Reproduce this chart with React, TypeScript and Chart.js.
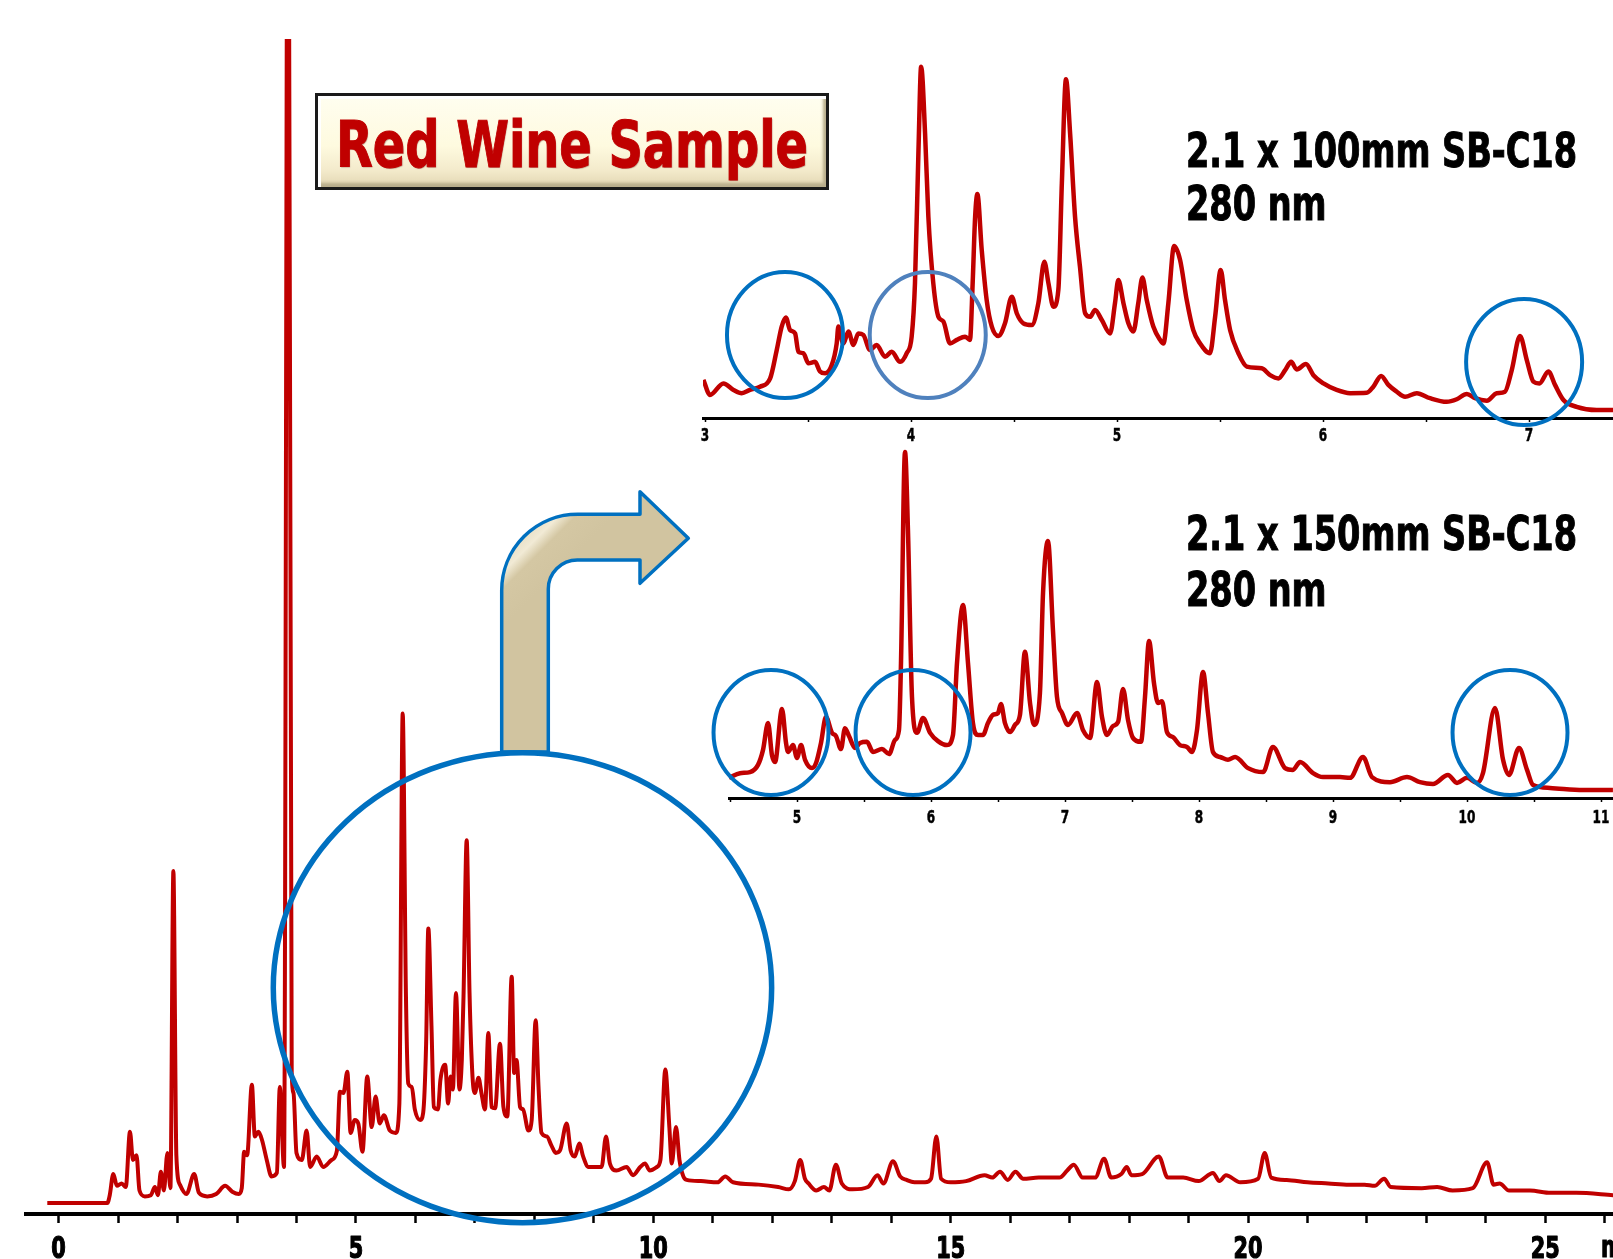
import React, { useEffect, useLayoutEffect, useRef } from 'react';
import { Chart, registerables } from 'chart.js';

Chart.register(...registerables);

const FONT = "'DejaVu Sans Condensed', 'DejaVu Sans', sans-serif";
const RED = '#C00000';
const BLUE = '#0070C0';
const STEEL = '#4F81BD';

// ---------- Main chromatogram (full run, minutes vs. relative absorbance) ----------
const mainTimes = [
  -0.19, 0.82, 0.86, 0.92, 0.98, 1.06, 1.13, 1.2, 1.25, 1.31, 1.36, 1.45, 1.55, 1.62, 1.67, 1.72, 1.77, 1.83, 1.88, 1.93,
  1.98, 2.04, 2.15, 2.28, 2.36, 2.5, 2.65, 2.8, 2.92, 3.03, 3.08, 3.12, 3.17, 3.25, 3.3, 3.36, 3.42, 3.5, 3.58, 3.67,
  3.72, 3.79, 3.86, 3.92, 3.95, 4.0, 4.09, 4.17, 4.23, 4.34, 4.45, 4.59, 4.68, 4.73, 4.79, 4.855, 4.91, 4.98, 5.04, 5.11,
  5.19, 5.265, 5.33, 5.4, 5.47, 5.57, 5.67, 5.73, 5.786, 5.84, 5.88, 5.94, 5.99, 6.08, 6.13, 6.18, 6.217, 6.27, 6.31, 6.38,
  6.42, 6.5, 6.55, 6.59, 6.63, 6.682, 6.74, 6.78, 6.81, 6.862, 6.91, 6.96, 7.0, 7.06, 7.11, 7.17, 7.226, 7.28, 7.34, 7.422,
  7.48, 7.545, 7.619, 7.66, 7.7, 7.76, 7.81, 7.9, 7.955, 8.022, 8.07, 8.12, 8.21, 8.29, 8.36, 8.43, 8.544, 8.61, 8.68, 8.756,
  8.82, 8.91, 9.05, 9.13, 9.205, 9.27, 9.38, 9.55, 9.66, 9.78, 9.86, 9.94, 10.06, 10.12, 10.202, 10.27, 10.31, 10.382, 10.44, 10.505,
  10.56, 10.8, 11.08, 11.21, 11.34, 11.77, 12.1, 12.28, 12.38, 12.47, 12.55, 12.61, 12.74, 12.87, 12.96, 13.07, 13.17, 13.35, 13.61, 13.77,
  13.87, 14.03, 14.15, 14.26, 14.39, 14.57, 14.67, 14.76, 14.84, 15.0, 15.26, 15.57, 15.7, 15.83, 15.96, 16.09, 16.22, 16.48, 16.83, 16.96,
  17.07, 17.22, 17.43, 17.58, 17.7, 17.87, 17.96, 18.04, 18.22, 18.5, 18.65, 18.91, 19.17, 19.41, 19.52, 19.63, 19.87, 20.17, 20.28, 20.39,
  20.65, 21.0, 21.35, 21.7, 21.96, 22.13, 22.29, 22.4, 22.92, 23.18, 23.44, 23.78, 24.02, 24.13, 24.23, 24.39, 24.74, 25.09, 25.52, 26.14,
];
const mainSignal = [
  0.94, 0.94, 1.6, 3.4, 2.4, 2.6, 2.3, 7.0, 4.6, 5.0, 2.0, 1.5, 1.6, 2.3, 1.6, 3.6, 2.0, 5.2, 2.2, 29.2,
  5.0, 2.5, 1.7, 3.4, 1.8, 1.5, 1.7, 2.4, 1.9, 1.7, 2.2, 5.3, 5.0, 11.0, 6.6, 7.0, 6.3, 4.6, 3.2, 3.5,
  10.8, 4.0, 135, 12.0, 10.3, 5.2, 4.6, 7.1, 4.0, 4.9, 4.0, 4.6, 5.4, 10.4, 10.3, 12.1, 6.9, 8.0, 7.7, 5.3,
  11.7, 7.4, 10.0, 7.7, 8.4, 7.1, 6.9, 9.4, 42.6, 18.8, 11.1, 10.8, 8.9, 8.0, 8.6, 14.5, 24.3, 16.0, 9.1, 8.9,
  11.4, 12.7, 9.4, 11.7, 10.6, 18.8, 10.6, 13.1, 18.8, 31.8, 18.8, 11.7, 10.3, 11.6, 10.3, 8.9, 15.4, 9.1, 9.0, 14.5,
  9.1, 8.3, 20.2, 12.0, 13.1, 9.1, 8.9, 7.1, 8.0, 16.5, 10.8, 6.9, 6.6, 5.8, 5.2, 5.4, 7.7, 5.4, 4.9, 6.0,
  4.9, 4.0, 4.0, 4.0, 6.6, 4.3, 3.7, 4.0, 3.3, 4.0, 4.3, 3.7, 4.0, 4.6, 12.3, 7.4, 4.3, 7.4, 4.6, 3.2,
  2.9, 2.8, 2.7, 3.2, 2.7, 2.5, 2.3, 2.1, 2.8, 4.6, 3.0, 2.6, 2.0, 2.3, 2.0, 4.2, 2.6, 2.1, 2.3, 3.3,
  2.6, 4.5, 3.2, 2.9, 2.7, 2.7, 3.0, 6.6, 3.0, 2.7, 2.8, 3.3, 3.1, 3.6, 2.9, 3.6, 3.0, 3.1, 3.1, 3.7,
  4.2, 3.1, 3.1, 4.7, 3.1, 3.4, 4.0, 3.3, 3.4, 4.9, 3.1, 3.1, 2.8, 3.5, 2.8, 3.3, 2.7, 3.0, 5.2, 3.1,
  2.9, 2.7, 2.6, 2.5, 2.5, 2.4, 3.0, 2.3, 2.2, 2.3, 2.0, 2.2, 4.4, 2.5, 2.6, 2.0, 2.0, 1.8, 1.8, 1.6,
];
const mainTickLabels = [0, 5, 10, 15, 20, 25];

// ---------- Inset 1: 2.1 x 100mm SB-C18, 280 nm ----------
const topTimes = [
  2.992, 3.024, 3.089, 3.138, 3.178, 3.218, 3.267, 3.316, 3.348, 3.372, 3.392, 3.413, 3.437, 3.453, 3.477, 3.502, 3.534, 3.558, 3.583, 3.615,
  3.639, 3.647, 3.671, 3.696, 3.72, 3.744, 3.768, 3.801, 3.833, 3.874, 3.906, 3.947, 3.979, 4.003, 4.019, 4.036, 4.049, 4.068, 4.084, 4.108,
  4.133, 4.157, 4.189, 4.222, 4.262, 4.286, 4.299, 4.311, 4.322, 4.343, 4.367, 4.392, 4.424, 4.456, 4.489, 4.513, 4.545, 4.586, 4.618, 4.647,
  4.667, 4.691, 4.715, 4.732, 4.752, 4.772, 4.796, 4.82, 4.845, 4.869, 4.893, 4.926, 4.966, 4.99, 5.006, 5.031, 5.055, 5.079, 5.103, 5.123,
  5.144, 5.176, 5.209, 5.225, 5.249, 5.277, 5.306, 5.338, 5.37, 5.403, 5.451, 5.476, 5.503, 5.524, 5.549, 5.589, 5.63, 5.702, 5.743, 5.783,
  5.816, 5.845, 5.872, 5.917, 5.953, 6.002, 6.066, 6.131, 6.212, 6.244, 6.282, 6.317, 6.358, 6.398, 6.455, 6.519, 6.6, 6.649, 6.698, 6.738,
  6.795, 6.843, 6.883, 6.916, 6.956, 6.989, 7.021, 7.05, 7.094, 7.126, 7.167, 7.231, 7.328, 7.408,
];
const topSignal = [
  10.6, 6.4, 9.6, 7.8, 6.9, 7.8, 8.7, 11.0, 18.9, 25.4, 27.9, 24.4, 23.5, 18.4, 18.0, 15.2, 15.6, 12.9, 12.4, 14.7,
  20.7, 25.4, 20.7, 24.0, 20.3, 23.5, 23.1, 18.9, 20.3, 17.0, 18.4, 15.6, 18.0, 22.6, 37.4, 74.4, 97.6, 79.1, 55.9, 37.4,
  28.1, 26.8, 20.7, 21.7, 22.6, 21.7, 37.4, 55.9, 62.2, 46.7, 32.8, 25.4, 22.8, 26.3, 33.7, 29.1, 26.3, 25.8, 31.9, 43.4,
  37.4, 30.9, 35.6, 65.2, 94.1, 79.1, 55.9, 42.0, 29.1, 28.1, 30.0, 27.2, 23.5, 31.9, 38.3, 31.9, 26.3, 24.0, 31.9, 39.0,
  32.8, 25.4, 21.7, 20.7, 31.9, 47.8, 43.9, 32.8, 24.4, 20.7, 18.0, 28.1, 41.1, 32.8, 24.4, 18.0, 14.3, 13.8, 11.9, 11.0,
  13.3, 15.6, 13.5, 15.0, 11.9, 9.6, 7.8, 6.9, 7.0, 8.7, 11.7, 9.2, 7.3, 5.9, 6.9, 5.5, 4.5, 5.2, 6.7, 5.5,
  4.8, 6.9, 7.3, 13.3, 22.8, 16.1, 10.1, 9.6, 12.9, 9.2, 5.0, 3.1, 2.2, 2.2,
];
const topTickLabels = [3, 4, 5, 6, 7];

// ---------- Inset 2: 2.1 x 150mm SB-C18, 280 nm ----------
const botTimes = [
  4.493, 4.575, 4.649, 4.709, 4.746, 4.784, 4.813, 4.836, 4.888, 4.918, 4.933, 4.97, 5.0, 5.03, 5.06, 5.112, 5.142, 5.179, 5.216, 5.261,
  5.291, 5.328, 5.358, 5.388, 5.433, 5.47, 5.522, 5.567, 5.634, 5.687, 5.731, 5.761, 5.776, 5.806, 5.828, 5.858, 5.896, 5.94, 5.993, 6.052,
  6.119, 6.164, 6.194, 6.239, 6.276, 6.313, 6.351, 6.388, 6.425, 6.463, 6.5, 6.522, 6.552, 6.59, 6.627, 6.664, 6.701, 6.739, 6.769, 6.813,
  6.836, 6.873, 6.91, 6.94, 6.978, 7.022, 7.09, 7.134, 7.187, 7.239, 7.276, 7.313, 7.358, 7.396, 7.433, 7.47, 7.507, 7.567, 7.597, 7.627,
  7.664, 7.694, 7.724, 7.761, 7.806, 7.858, 7.91, 7.948, 7.985, 8.03, 8.067, 8.104, 8.157, 8.216, 8.269, 8.366, 8.478, 8.552, 8.642, 8.701,
  8.754, 8.851, 8.925, 9.052, 9.127, 9.224, 9.291, 9.425, 9.552, 9.649, 9.746, 9.858, 9.925, 10.0, 10.075, 10.119, 10.209, 10.269, 10.313, 10.388,
  10.448, 10.493, 10.619, 10.866, 11.089,
];
const botSignal = [
  5.6, 6.9, 7.2, 9.2, 13.3, 20.8, 11.9, 10.0, 24.7, 15.3, 12.8, 14.7, 11.1, 14.7, 10.6, 8.3, 9.7, 15.3, 22.5, 18.1,
  17.2, 13.6, 19.4, 17.2, 13.9, 15.3, 15.6, 12.8, 13.6, 12.2, 16.1, 18.9, 37.5, 96.1, 74.4, 28.1, 18.1, 22.2, 18.1, 15.8,
  14.7, 17.5, 37.5, 53.6, 37.5, 20.8, 17.5, 17.5, 20.8, 23.1, 23.6, 26.1, 20.8, 18.3, 20.3, 23.1, 40.6, 26.4, 20.3, 29.2,
  56.9, 71.4, 46.7, 28.1, 23.6, 20.3, 23.6, 18.9, 16.7, 32.2, 22.5, 17.5, 20.0, 21.1, 30.3, 21.7, 16.7, 15.6, 28.1, 43.6,
  31.9, 26.4, 26.9, 18.3, 16.9, 14.7, 14.2, 12.8, 18.9, 35.0, 23.6, 12.8, 11.4, 10.6, 11.4, 8.3, 7.2, 14.2, 8.3, 7.8,
  10.0, 6.9, 5.8, 5.8, 5.6, 11.4, 5.8, 4.4, 5.8, 4.4, 3.9, 6.4, 4.2, 5.6, 4.2, 6.9, 25.0, 10.6, 6.4, 13.9,
  7.8, 3.6, 2.8, 2.2, 2.2,
];
const botTickLabels = [5, 6, 7, 8, 9, 10, 11];

// Highlight circles (centre time, centre signal, radius in minutes, radius in signal units)
const mainCircles = [{ t: 7.8, v: 19.26, rt: 4.19, rv: 20.0, color: BLUE, width: 5.5 }];
const topCircles = [
  { t: 3.388, v: 23.06, rt: 0.2816, rv: 17.5, color: BLUE, width: 4 },
  { t: 4.081, v: 23.06, rt: 0.2816, rv: 17.5, color: STEEL, width: 4 },
  { t: 6.976, v: 15.56, rt: 0.2816, rv: 17.5, color: BLUE, width: 4 },
];
const botCircles = [
  { t: 4.806, v: 18.19, rt: 0.429, rv: 17.36, color: BLUE, width: 4 },
  { t: 5.866, v: 18.19, rt: 0.429, rv: 17.36, color: BLUE, width: 4 },
  { t: 10.321, v: 18.19, rt: 0.429, rv: 17.36, color: BLUE, width: 4 },
];

const toPoints = (ts: number[], vs: number[]) => ts.map((t, i) => ({ x: t, y: vs[i] }));

const circlePlugin = (id: string, circles: any[]) => ({
  id,
  afterDatasetsDraw(chart: any) {
    const { ctx, scales } = chart;
    const xs = scales.x;
    const ys = scales.y;
    ctx.save();
    circles.forEach((c) => {
      const cx = xs.getPixelForValue(c.t);
      const cy = ys.getPixelForValue(c.v);
      const rx = Math.abs(xs.getPixelForValue(c.t + c.rt) - cx);
      const ry = Math.abs(ys.getPixelForValue(c.v + c.rv) - cy);
      ctx.beginPath();
      ctx.ellipse(cx, cy, rx, ry, 0, 0, Math.PI * 2);
      ctx.strokeStyle = c.color;
      ctx.lineWidth = c.width;
      ctx.stroke();
    });
    ctx.restore();
  },
});

// condensed bold tick labels drawn under the x axis
const tickLabelPlugin = (id: string, labels: number[], size: number, digitWidth: number, baselineOffset: number, weight: number) => ({
  id,
  afterDraw(chart: any) {
    const { ctx, scales, chartArea } = chart;
    const xs = scales.x;
    ctx.save();
    ctx.font = `bold ${size}px ${FONT}`;
    const sx = digitWidth / ctx.measureText('0').width;
    ctx.fillStyle = '#000';
    ctx.strokeStyle = '#000';
    ctx.lineWidth = weight;
    ctx.lineJoin = 'round';
    ctx.textAlign = 'center';
    ctx.textBaseline = 'alphabetic';
    labels.forEach((l) => {
      const px = xs.getPixelForValue(l);
      ctx.save();
      ctx.translate(px, chartArea.bottom + baselineOffset);
      ctx.scale(sx, 1);
      ctx.fillText(String(l), 0, 0);
      if (weight > 0) ctx.strokeText(String(l), 0, 0);
      ctx.restore();
    });
    ctx.restore();
  },
});

const arrowPlugin = {
  id: 'arrowDeco',
  afterDatasetsDraw(chart: any) {
    const ctx = chart.ctx;
    ctx.save();
    ctx.beginPath();
    ctx.moveTo(501.7, 752);
    ctx.lineTo(501.7, 590);
    ctx.arcTo(501.7, 514.3, 578, 514.3, 76);
    ctx.lineTo(640, 514.3);
    ctx.lineTo(640, 491.7);
    ctx.lineTo(688.3, 538.3);
    ctx.lineTo(640, 583.3);
    ctx.lineTo(640, 560);
    ctx.lineTo(578, 560);
    ctx.arcTo(548.3, 560, 548.3, 590, 29);
    ctx.lineTo(548.3, 752);
    ctx.closePath();
    const g = ctx.createLinearGradient(505, 525, 555, 575);
    g.addColorStop(0, '#DCD0AF');
    g.addColorStop(0.45, '#F1EAD5');
    g.addColorStop(0.62, '#D4C7A3');
    g.addColorStop(1, '#D1C4A0');
    ctx.fillStyle = g;
    ctx.fill();
    ctx.lineJoin = 'round';
    ctx.strokeStyle = BLUE;
    ctx.lineWidth = 3.5;
    ctx.stroke();
    ctx.restore();
  },
};

function lineDataset(ts: number[], vs: number[], width: number) {
  return {
    data: toPoints(ts, vs),
    borderColor: RED,
    borderWidth: width,
    pointRadius: 0,
    fill: false,
    cubicInterpolationMode: 'monotone' as const,
    borderJoinStyle: 'round' as const,
  };
}

function xScale(min: number, max: number, step: number, tickLen: number, borderW: number, tickW: number, height: number) {
  return {
    type: 'linear' as const,
    min,
    max,
    afterFit: (s: any) => {
      s.height = height;
    },
    border: { display: true, color: '#000', width: borderW },
    grid: {
      display: true,
      drawOnChartArea: false,
      drawTicks: true,
      tickLength: tickLen,
      tickWidth: tickW,
      tickColor: '#000',
    },
    ticks: {
      display: false,
      stepSize: step,
      includeBounds: false,
      autoSkip: false,
      maxRotation: 0,
      minRotation: 0,
    },
  };
}

function makeConfig(ts: number[], vs: number[], lw: number, xs: any, padding: any, plugins: any[]) {
  return {
    type: 'line' as const,
    data: { datasets: [lineDataset(ts, vs, lw)] },
    options: {
      animation: false as const,
      responsive: true,
      maintainAspectRatio: false,
      devicePixelRatio: 1,
      layout: { padding },
      plugins: { legend: { display: false }, tooltip: { enabled: false }, title: { display: false } },
      scales: {
        x: xs,
        y: { type: 'linear' as const, display: false, min: 0, max: 100 },
      },
    },
    plugins,
  };
}

const textBase: React.CSSProperties = {
  position: 'absolute',
  fontFamily: FONT,
  fontWeight: 'bold',
  lineHeight: 1,
  whiteSpace: 'nowrap',
  margin: 0,
  transformOrigin: 'left top',
};

const MAIN_PX_PER_MIN = 59.47;
const MAIN_ZERO_PX = 58.6;

export default function App() {
  const mainRef = useRef<HTMLCanvasElement>(null);
  const topRef = useRef<HTMLCanvasElement>(null);
  const botRef = useRef<HTMLCanvasElement>(null);
  const titleRef = useRef<HTMLDivElement>(null);
  const col1Ref = useRef<HTMLDivElement>(null);
  const o1 = useRef<HTMLDivElement>(null);
  const o2 = useRef<HTMLDivElement>(null);
  const o3 = useRef<HTMLDivElement>(null);
  const o4 = useRef<HTMLDivElement>(null);

  useLayoutEffect(() => {
    const t = titleRef.current;
    if (t) {
      const w = t.getBoundingClientRect().width;
      t.style.transform = `scaleX(${472 / w})`;
    }
    const c = col1Ref.current;
    if (c) {
      const f = 391 / c.getBoundingClientRect().width;
      c.style.transform = `scaleX(${f})`;
      [o1, o2, o3, o4].forEach((r) => {
        if (r.current) r.current.style.transform = `scaleX(${f})`;
      });
    }
  }, []);

  useEffect(() => {
    const charts: Chart[] = [];
    const mainMin = (26 - MAIN_ZERO_PX) / MAIN_PX_PER_MIN;
    charts.push(
      new Chart(
        mainRef.current as HTMLCanvasElement,
        makeConfig(
          mainTimes,
          mainSignal,
          4,
          xScale(mainMin, mainMin + 1587 / MAIN_PX_PER_MIN, 1, 9, 4, 2.5, 45),
          { top: 39, left: 26, right: 0, bottom: 0 },
          [arrowPlugin, circlePlugin('mainCircles', mainCircles), tickLabelPlugin('mainLabels', mainTickLabels, 30, 14.5, 43.5, 1.2)]
        ) as any
      )
    );
    charts.push(
      new Chart(
        topRef.current as HTMLCanvasElement,
        makeConfig(
          topTimes,
          topSignal,
          4.5,
          xScale(2.99, 2.99 + 910 / 206, 0.5, 4, 3, 1.5, 30),
          { top: 18, left: 20, right: 0, bottom: 0 },
          [circlePlugin('topCircles', topCircles), tickLabelPlugin('topLabels', topTickLabels, 18, 8.4, 23, 0.5)]
        ) as any
      )
    );
    charts.push(
      new Chart(
        botRef.current as HTMLCanvasElement,
        makeConfig(
          botTimes,
          botSignal,
          4.5,
          xScale(4.4925, 4.4925 + 884 / 134, 0.5, 4, 3, 1.5, 30),
          { top: 18, left: 20, right: 0, bottom: 0 },
          [circlePlugin('botCircles', botCircles), tickLabelPlugin('botLabels', botTickLabels, 18, 8.4, 24.5, 0.5)]
        ) as any
      )
    );
    return () => charts.forEach((ch) => ch.destroy());
  }, []);

  const heavy = { WebkitTextStroke: '1px currentColor' } as React.CSSProperties;

  return (
    <div
      style={{
        position: 'fixed',
        left: 0,
        top: 0,
        width: 1613,
        height: 1259,
        overflow: 'hidden',
        background: '#ffffff',
      }}
    >
      <div style={{ position: 'absolute', left: 0, top: 0, width: 1613, height: 1259 }}>
        <canvas ref={mainRef} />
      </div>
      <div style={{ position: 'absolute', left: 683, top: 40, width: 930, height: 408 }}>
        <canvas ref={topRef} />
      </div>
      <div style={{ position: 'absolute', left: 709, top: 420, width: 904, height: 408 }}>
        <canvas ref={botRef} />
      </div>

      <div
        style={{
          position: 'absolute',
          left: 315,
          top: 93,
          width: 514,
          height: 97,
          boxSizing: 'border-box',
          border: '3px solid #1a1a1a',
          background: 'linear-gradient(#FFFEF0 0%, #FEFADF 55%, #F3EACB 82%, #E2D6B2 100%)',
          boxShadow: 'inset 3px 3px 0 #ffffff, inset -3px -4px 3px #B9AE8C',
        }}
      />
      <div
        ref={titleRef}
        style={{
          ...textBase,
          ...heavy,
          left: 336,
          top: 113,
          fontSize: 64,
          color: RED,
          textShadow: '1px 1px 1px rgba(90,0,0,0.35)',
        }}
      >
        Red Wine Sample
      </div>

      <div ref={col1Ref} style={{ ...textBase, ...heavy, left: 1186, top: 126.4, fontSize: 48, color: '#000' }}>
        2.1 x 100mm SB-C18
      </div>
      <div ref={o1} style={{ ...textBase, ...heavy, left: 1186, top: 179.4, fontSize: 48, color: '#000' }}>
        280 nm
      </div>
      <div ref={o2} style={{ ...textBase, ...heavy, left: 1186, top: 509.4, fontSize: 48, color: '#000' }}>
        2.1 x 150mm SB-C18
      </div>
      <div ref={o3} style={{ ...textBase, ...heavy, left: 1186, top: 565.4, fontSize: 48, color: '#000' }}>
        280 nm
      </div>
      <div ref={o4} style={{ ...textBase, ...heavy, left: 1601, top: 1232, fontSize: 30, color: '#000' }}>
        min
      </div>
    </div>
  );
}
